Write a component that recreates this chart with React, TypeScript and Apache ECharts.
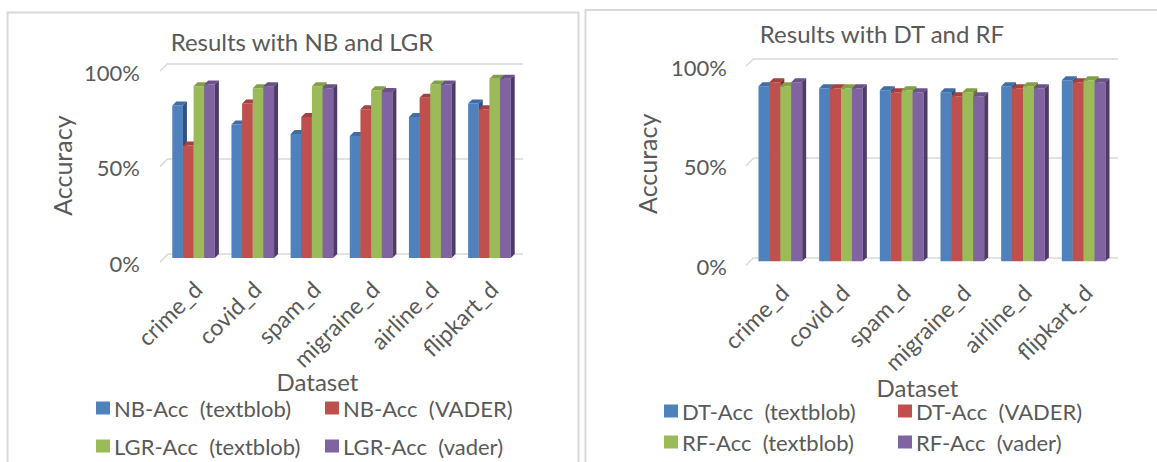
import React, { useEffect, useRef } from "react";
import * as echarts from "echarts";

const categories = ["crime_d", "covid_d", "spam_d", "migraine_d", "airline_d", "flipkart_d"];

const leftSeriesNames = ["NB-Acc  (textblob)", "NB-Acc  (VADER)", "LGR-Acc  (textblob)", "LGR-Acc  (vader)"];
const nbTextblob = [80, 70, 65, 64, 74, 81];
const nbVader = [59, 81, 74, 78, 84, 78];
const lgrTextblob = [90, 89, 90, 88, 91, 94];
const lgrVader = [91, 90, 89, 87, 91, 94];

const rightSeriesNames = ["DT-Acc  (textblob)", "DT-Acc  (VADER)", "RF-Acc  (textblob)", "RF-Acc  (vader)"];
const dtTextblob = [88, 87, 86, 85, 88, 91];
const dtVader = [90, 87, 85, 83, 87, 90];
const rfTextblob = [88, 87, 86, 85, 88, 91];
const rfVader = [90, 87, 85, 83, 87, 90];

const yTicks = [0, 50, 100];

const colors = ["#4F81BD", "#C0504D", "#9BBB59", "#8064A2"];
const capColors = ["#3F6DA6", "#A8413E", "#82A046", "#6A528A"];
const sideColors = ["#2E5286", "#86302E", "#65802F", "#4E3B68"];

const TEXT = "#595959";
const FONT = "Lato, 'Open Sans', sans-serif";

function barSeries(name: string, values: number[], s: number, axis: number) {
  return {
    type: "custom",
    name,
    xAxisIndex: axis,
    yAxisIndex: axis,
    itemStyle: { color: colors[s] },
    encode: { x: 0, y: 1 },
    data: values.map((v, i) => [i, v]),
    renderItem: (params: any, api: any) => {
      const ci = api.value(0);
      const base = api.coord([ci, 0]);
      const top = api.coord([ci, api.value(1)]);
      const band = api.size([1, 0])[0];
      const bw = band * 0.18;
      const d = 4;
      const x0 = base[0] - 2 * bw - d + s * bw;
      const yb = base[1] + d;
      const yt = top[1] + d;
      return {
        type: "group",
        children: [
          {
            type: "rect",
            shape: { x: x0, y: yt, width: bw, height: yb - yt },
            style: { fill: colors[s] },
          },
          {
            type: "polygon",
            shape: { points: [[x0, yt], [x0 + bw, yt], [x0 + bw + d, yt - d], [x0 + d, yt - d]] },
            style: { fill: capColors[s] },
          },
          {
            type: "polygon",
            shape: { points: [[x0 + bw, yt], [x0 + bw + d, yt - d], [x0 + bw + d, yb - d], [x0 + bw, yb]] },
            style: { fill: sideColors[s] },
          },
        ],
      };
    },
  };
}

function stubSeries(axis: number) {
  return {
    type: "custom",
    name: "stub" + axis,
    xAxisIndex: axis,
    yAxisIndex: axis,
    silent: true,
    encode: { x: 0, y: 1 },
    data: yTicks.map((t) => [0, t]),
    renderItem: (params: any, api: any) => {
      const p = api.coord([0, api.value(1)]);
      const band = api.size([1, 0])[0];
      const xl = p[0] - band / 2;
      return {
        type: "line",
        shape: { x1: xl - 8, y1: p[1] + 8, x2: xl, y2: p[1] },
        style: { stroke: "#D9D9D9", lineWidth: 1.5 },
      };
    },
  };
}

function makeLegend(name: string, left: number, top: number) {
  return {
    data: [name],
    left,
    top,
    icon: "rect",
    itemWidth: 14,
    itemHeight: 13,
    itemGap: 0,
    padding: 0,
    selectedMode: false,
    textStyle: { color: TEXT, fontSize: 22, fontFamily: FONT, padding: [0, 0, 0, -1] },
  };
}

export default function App() {
  const ref = useRef<HTMLDivElement>(null);
  useEffect(() => {
    if (!ref.current) return;
    const chart = echarts.init(ref.current, undefined, { renderer: "svg" });
    const axisCommon = (idx: number) => ({
      type: "category",
      gridIndex: idx,
      data: categories,
      axisLine: { show: false },
      axisTick: { show: false },
      axisLabel: { rotate: 45, color: TEXT, fontSize: 23, fontFamily: FONT, margin: 31, interval: 0 },
      name: "Dataset",
      nameLocation: "middle",
      nameMoveOverlap: false,
      nameTextStyle: { color: TEXT, fontSize: 24, fontFamily: FONT, padding: idx === 0 ? [0, 56, 0, 0] : [0, 37, 0, 0] },
      nameGap: idx === 0 ? 115 : 118,
    });
    const yCommon = (idx: number) => ({
      type: "value",
      gridIndex: idx,
      min: 0,
      max: 100,
      interval: 50,
      axisLine: { show: false },
      axisTick: { show: false },
      splitLine: { lineStyle: { color: "#D9D9D9", width: 1.5 } },
      axisLabel: {
        color: TEXT,
        fontSize: 22,
        fontFamily: FONT,
        formatter: "{value}%",
        margin: idx === 0 ? 28 : 27,
        verticalAlign: "top",
        lineHeight: 18,
      },
      name: "Accuracy",
      nameLocation: "middle",
      nameRotate: 90,
      nameMoveOverlap: false,
      nameGap: idx === 0 ? 94 : 95,
      nameTextStyle: { color: TEXT, fontSize: 25, fontFamily: FONT, padding: idx === 0 ? [0, 14, 0, 0] : [0, 12, 0, 0] },
    });
    chart.setOption({
      animation: false,
      backgroundColor: "#ffffff",
      title: [
        {
          text: "Results with NB and LGR",
          left: 297,
          top: 24,
          textAlign: "center",
          textStyle: { color: TEXT, fontSize: 24, fontWeight: "normal", fontFamily: FONT },
        },
        {
          text: "Results with DT and RF",
          left: 877,
          top: 16,
          textAlign: "center",
          textStyle: { color: TEXT, fontSize: 24, fontWeight: "normal", fontFamily: FONT },
        },
      ],
      grid: [
        { left: 168, top: 63.3, width: 355, height: 190.7, containLabel: false },
        { left: 754, top: 58.3, width: 364, height: 199, containLabel: false },
      ],
      xAxis: [axisCommon(0), axisCommon(1)],
      yAxis: [yCommon(0), yCommon(1)],
      legend: [
        makeLegend(leftSeriesNames[0], 96, 397),
        makeLegend(leftSeriesNames[1], 325, 397),
        makeLegend(leftSeriesNames[2], 96, 435),
        makeLegend(leftSeriesNames[3], 325, 435),
        makeLegend(rightSeriesNames[0], 664, 400),
        makeLegend(rightSeriesNames[1], 898, 400),
        makeLegend(rightSeriesNames[2], 664, 431),
        makeLegend(rightSeriesNames[3], 898, 431),
      ],
      graphic: [
        {
          type: "polyline",
          shape: { points: [[7.5, 470], [7.5, 12.5], [578.5, 12.5], [578.5, 470]] },
          style: { stroke: "#D9D9D9", lineWidth: 2, fill: "none" },
          silent: true,
        },
        {
          type: "polyline",
          shape: { points: [[585.5, 470], [585.5, 10], [1160, 10]] },
          style: { stroke: "#D9D9D9", lineWidth: 2, fill: "none" },
          silent: true,
        },
      ],
      series: [
        stubSeries(0),
        stubSeries(1),
        barSeries(leftSeriesNames[0], nbTextblob, 0, 0),
        barSeries(leftSeriesNames[1], nbVader, 1, 0),
        barSeries(leftSeriesNames[2], lgrTextblob, 2, 0),
        barSeries(leftSeriesNames[3], lgrVader, 3, 0),
        barSeries(rightSeriesNames[0], dtTextblob, 0, 1),
        barSeries(rightSeriesNames[1], dtVader, 1, 1),
        barSeries(rightSeriesNames[2], rfTextblob, 2, 1),
        barSeries(rightSeriesNames[3], rfVader, 3, 1),
      ],
    });
    return () => chart.dispose();
  }, []);
  return (
    <div
      ref={ref}
      style={{ position: "absolute", left: 0, top: 0, width: 1157, height: 462, background: "#fff" }}
    />
  );
}
